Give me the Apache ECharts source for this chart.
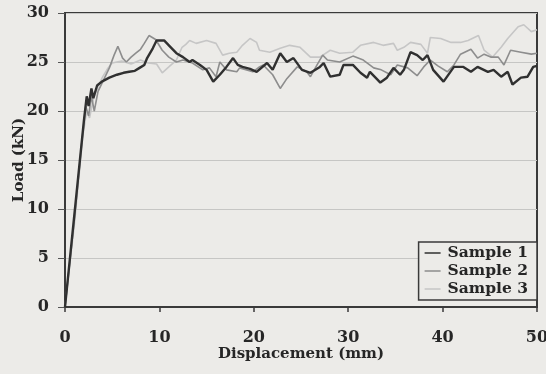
<!DOCTYPE html>
<html>
<head>
<meta charset="utf-8">
<script src="https://cdn.jsdelivr.net/npm/echarts@6/dist/echarts.min.js"></script>
<style>
html,body{margin:0;padding:0;background:#ecebe8;}
#c{width:546px;height:374px;}
</style>
</head>
<body>
<div id="c"></div>
<script>
const seriesNames = ['Sample 1', 'Sample 2', 'Sample 3'];
const xTicks = [0, 10, 20, 30, 40, 50];
const yTicks = [0, 5, 10, 15, 20, 25, 30];

const s1x = [0,1.0,2.0,2.3,2.5,2.8,3.0,3.4,3.9,4.7,5.5,6.2,6.8,7.4,7.9,8.4,8.7,9.3,9.7,10.5,11.0,11.8,12.5,13.2,13.5,14.3,15.0,15.7,16.4,17.1,17.8,18.3,18.8,19.6,20.3,21.4,22.0,22.8,23.5,24.2,25.1,26.0,27.0,27.4,28.1,29.1,29.5,30.5,31.3,32.0,32.3,33.1,33.4,34.1,34.8,35.5,35.9,36.6,37.3,37.9,38.4,39.0,40.1,41.2,42.2,43.0,43.7,44.8,45.4,46.2,46.9,47.4,48.3,49.0,49.6,50];
const s1y = [0,9.5,19.0,21.5,20.5,22.3,21.3,22.6,23.0,23.4,23.7,23.9,24.0,24.1,24.4,24.7,25.4,26.4,27.2,27.2,26.7,25.9,25.5,25.0,25.2,24.7,24.2,23.0,23.7,24.5,25.4,24.7,24.5,24.3,24.0,24.9,24.2,25.9,25.0,25.4,24.2,23.9,24.5,24.9,23.5,23.7,24.7,24.7,23.9,23.4,24.0,23.2,22.9,23.4,24.4,23.7,24.2,26.0,25.7,25.2,25.7,24.2,23.0,24.5,24.5,24.0,24.5,24.0,24.2,23.5,24.0,22.7,23.4,23.5,24.5,24.6];

const s2x = [0,1.0,1.8,2.2,2.5,2.8,3.1,3.5,4.0,4.7,5.2,5.6,6.1,6.5,7.0,7.5,8.0,8.4,8.9,9.6,10.3,11.0,11.8,12.5,13.5,14.6,15.3,16.0,16.4,17.1,18.2,18.5,19.9,20.6,21.0,22.0,22.8,23.5,24.6,25.6,26.0,26.7,27.3,27.8,29.1,30.5,31.6,32.7,33.5,34.5,35.2,36.3,37.3,38.0,38.7,39.5,40.5,41.2,41.9,43.0,43.7,44.4,45.1,45.9,46.5,47.2,48.3,49.4,50];
const s2y = [0,9.0,17.0,20.5,19.5,21.5,20.0,22.0,23.0,24.4,25.7,26.6,25.4,25.0,25.5,25.9,26.3,26.9,27.7,27.3,26.2,25.5,25.0,25.2,24.9,24.2,24.4,23.5,25.0,24.2,24.0,24.4,24.0,24.5,24.7,23.7,22.3,23.3,24.5,24.0,23.5,24.7,25.7,25.2,25.0,25.6,25.2,24.4,24.2,23.7,24.7,24.4,23.6,24.5,25.2,24.6,24.0,24.7,25.8,26.3,25.4,25.8,25.5,25.5,24.7,26.2,26.0,25.8,25.9];

const s3x = [0,1.0,1.9,2.3,2.6,3.0,3.5,4.0,4.5,5.0,6.0,7.0,8.0,8.8,9.7,10.3,11.0,11.8,12.4,12.8,13.2,13.9,15.0,16.0,16.7,17.4,18.2,18.8,19.6,20.3,20.6,21.7,22.8,23.8,24.9,26.0,27.0,28.1,29.1,30.5,31.3,32.7,33.7,34.8,35.2,35.9,36.6,37.7,38.4,38.7,39.8,40.9,41.9,42.7,43.8,44.4,45.3,46.2,46.9,48.0,48.6,49.4,50];
const s3y = [0,8.5,17.5,20.0,19.3,21.2,22.5,23.5,24.3,24.9,25.1,24.8,25.2,24.9,24.8,23.9,24.5,25.2,26.5,26.8,27.2,26.9,27.2,26.9,25.7,25.9,26.0,26.7,27.4,27.0,26.2,26.0,26.4,26.7,26.5,25.5,25.5,26.2,25.9,26.0,26.7,27.0,26.7,26.9,26.2,26.5,27.0,26.8,25.9,27.5,27.4,27.0,27.0,27.2,27.7,26.2,25.5,26.5,27.4,28.6,28.8,28.1,28.3];

const seriesX = [s1x, s2x, s3x];
const seriesY = [s1y, s2y, s3y];
const colors = ['#303030', '#8d8d8d', '#c6c6c6'];
const widths = [2.4, 1.6, 1.6];
const zs = [5, 4, 3];

const font = 'DejaVu Serif';
const txt = '#262626';
const chart = echarts.init(document.getElementById('c'), null, {renderer: 'canvas'});
chart.setOption({
  backgroundColor: '#ecebe8',
  animation: false,
  grid: {left: 65, right: 9, top: 13, bottom: 67, outerBoundsMode: 'none', containLabel: false, show: true, borderColor: '#3a3a3a', borderWidth: 2, backgroundColor: 'transparent'},
  legend: {
    orient: 'vertical', right: 9, top: 242,
    data: seriesNames,
    icon: 'rect', itemWidth: 16, itemHeight: 1.5, itemGap: 2,
    padding: [3, 9, 3, 6],
    borderColor: '#3a3a3a', borderWidth: 1.5, backgroundColor: '#ecebe8',
    textStyle: {fontFamily: font, fontWeight: 'bold', fontSize: 15.5, color: txt, padding: [0,0,0,2]}
  },
  xAxis: {
    type: 'value', min: xTicks[0], max: xTicks[xTicks.length-1], interval: 10,
    name: 'Displacement (mm)', nameLocation: 'middle', nameGap: 40, nameMoveOverlap: false,
    nameTextStyle: {fontFamily: font, fontWeight: 'bold', fontSize: 15, color: txt},
    axisLine: {show: true, lineStyle: {color: '#3a3a3a', width: 2}},
    axisTick: {show: true, length: 5, lineStyle: {color: '#3a3a3a', width: 1.5}},
    axisLabel: {fontFamily: font, fontWeight: 'bold', fontSize: 16, color: txt, margin: 23},
    splitLine: {show: false}
  },
  yAxis: {
    type: 'value', min: yTicks[0], max: yTicks[yTicks.length-1], interval: 5,
    name: 'Load (kN)', nameLocation: 'middle', nameGap: 38, nameRotate: 90, nameMoveOverlap: false,
    nameTextStyle: {fontFamily: font, fontWeight: 'bold', fontSize: 15, color: txt},
    axisLine: {show: true, lineStyle: {color: '#3a3a3a', width: 2}},
    axisTick: {show: true, length: 7, lineStyle: {color: '#555', width: 1}},
    axisLabel: {fontFamily: font, fontWeight: 'bold', fontSize: 16, color: txt, margin: 16},
    splitLine: {show: true, lineStyle: {color: '#c6c6c4', width: 1}}
  },
  series: seriesNames.map((n, i) => ({
    name: n, type: 'line', showSymbol: false, symbol: 'none', z: zs[i],
    color: colors[i],
    lineStyle: {color: colors[i], width: widths[i]},
    data: seriesX[i].map((x, j) => [x, seriesY[i][j]])
  }))
});
</script>
</body>
</html>
